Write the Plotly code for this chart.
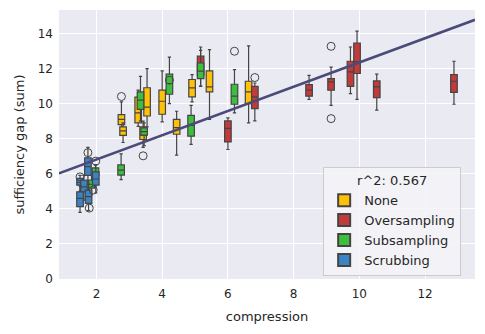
import plotly.graph_objects as go

# ---- data ----
methods = ["None", "Oversampling", "Subsampling", "Scrubbing"]
colors = {"None": "#FFC107", "Oversampling": "#C23B3B", "Subsampling": "#3CBF3C", "Scrubbing": "#3A84C6"}

none_x      = [2.76, 2.81, 3.27, 3.54, 3.42, 4.00, 4.44, 4.91, 5.44, 6.63]
none_lf     = [8.60, 7.78, 8.70, 8.67, 7.50, 8.95, 7.06, 10.09, 9.10, 8.90]
none_q1     = [8.80, 8.19, 8.90, 9.29, 7.95, 9.39, 8.25, 10.38, 10.66, 10.00]
none_med    = [9.10, 8.44, 9.47, 9.80, 8.20, 10.13, 8.63, 10.89, 10.95, 10.66]
none_q3     = [9.37, 8.67, 10.37, 10.90, 8.67, 10.76, 9.10, 11.37, 11.86, 11.27]
none_uf     = [10.09, 8.90, 10.76, 11.99, 9.00, 11.86, 9.56, 11.65, 13.07, 13.28]
none_out_x  = [2.76, 3.42]
none_out_y  = [10.40, 7.02]

over_x      = [5.17, 6.00, 6.82, 8.47, 9.14, 9.73, 9.93, 10.53, 12.88]
over_lf     = [10.98, 7.38, 9.01, 10.24, 9.90, 10.57, 10.24, 9.62, 9.96]
over_q1     = [11.60, 7.81, 9.71, 10.42, 10.76, 10.98, 11.71, 10.34, 10.63]
over_med    = [12.10, 8.58, 10.38, 10.76, 11.23, 11.80, 12.37, 10.95, 11.27]
over_q3     = [12.70, 9.01, 10.98, 11.08, 11.42, 12.41, 13.45, 11.29, 11.65]
over_uf     = [13.22, 9.18, 11.17, 11.61, 12.08, 13.22, 14.13, 11.67, 12.41]
over_out_x  = [6.82, 9.14, 9.14]
over_out_y  = [11.48, 13.26, 9.14]

sub_x       = [2.75, 3.34, 3.45, 4.22, 4.88, 5.17, 6.20, 1.97, 1.85]
sub_lf      = [5.66, 9.00, 7.60, 10.00, 7.67, 11.00, 9.47, 5.30, 4.80]
sub_q1      = [5.92, 9.67, 8.20, 10.53, 8.14, 11.42, 9.96, 5.90, 5.18]
sub_med     = [6.20, 10.19, 8.40, 11.14, 8.76, 11.85, 10.42, 6.00, 5.40]
sub_q3      = [6.50, 10.66, 8.61, 11.67, 9.33, 12.31, 11.10, 6.33, 5.63]
sub_uf      = [7.13, 11.55, 8.90, 12.65, 9.90, 13.03, 11.93, 6.50, 5.90]
sub_out_x   = [4.22, 6.20]
sub_out_y   = [11.33, 12.98]

scr_x       = [1.74, 1.98, 1.50, 1.62, 1.50, 1.76]
scr_lf      = [5.50, 4.90, 5.00, 4.50, 3.80, 3.90]
scr_q1      = [5.90, 5.35, 5.35, 4.97, 4.12, 4.31]
scr_med     = [6.40, 5.70, 5.50, 5.25, 4.60, 4.70]
scr_q3      = [6.90, 6.10, 5.73, 5.63, 4.97, 5.07]
scr_uf      = [7.50, 6.50, 5.90, 5.90, 5.30, 5.40]
scr_out_x   = [1.74, 1.98, 1.50, 1.90, 1.78]
scr_out_y   = [7.20, 6.72, 5.82, 5.07, 4.04]

reg_slope = 0.691
reg_intercept = 5.43
r2_label = "r^2: 0.567"

x_range = [0.86, 13.52]
y_range = [0, 15.33]
x_ticks = [2, 4, 6, 8, 10, 12]
y_ticks = [0, 2, 4, 6, 8, 10, 12, 14]

groups = {
    "None": (none_x, none_lf, none_q1, none_med, none_q3, none_uf, none_out_x, none_out_y),
    "Oversampling": (over_x, over_lf, over_q1, over_med, over_q3, over_uf, over_out_x, over_out_y),
    "Subsampling": (sub_x, sub_lf, sub_q1, sub_med, sub_q3, sub_uf, sub_out_x, sub_out_y),
    "Scrubbing": (scr_x, scr_lf, scr_q1, scr_med, scr_q3, scr_uf, scr_out_x, scr_out_y),
}

fig = go.Figure()
edge = "#444444"

for m in methods:
    xs, lf, q1, med, q3, uf, ox, oy = groups[m]
    fig.add_trace(go.Box(
        name=m, x=xs, lowerfence=lf, q1=q1, median=med, q3=q3, upperfence=uf,
        width=0.2, whiskerwidth=0.5, fillcolor=colors[m],
        line=dict(color=edge, width=1.2), boxpoints=False,
        legendgroup=m, showlegend=True, hoverinfo="skip",
    ))
    fig.add_trace(go.Scatter(
        x=ox, y=oy, mode="markers", legendgroup=m, showlegend=False,
        marker=dict(symbol="circle-open", size=8, color=edge, line=dict(width=1)),
        hoverinfo="skip",
    ))

# regression line across the visible x-range
fig.add_trace(go.Scatter(
    x=x_range, y=[reg_slope * v + reg_intercept for v in x_range],
    mode="lines", line=dict(color="#4B4B7A", width=2.6), showlegend=False, hoverinfo="skip",
))

# the page puts the figure 8px in from the top-left corner
fig.update_layout(
    width=477, height=326,
    margin=dict(l=51, r=10, t=2, b=55, autoexpand=False),
    paper_bgcolor="white", plot_bgcolor="#EAEAF2",
    font=dict(family="DejaVu Sans", size=12, color="#262626"),
    boxmode="overlay",
    legend=dict(
        x=0.635, y=0.415, xanchor="left", yanchor="top",
        bgcolor="rgba(245,245,248,0.85)", bordercolor="#CCCCCC", borderwidth=1,
        title=dict(text=r2_label, side="top center", font=dict(size=13)),
        font=dict(size=13), traceorder="normal", itemsizing="constant",
        tracegroupgap=0,
    ),
    xaxis=dict(
        range=x_range, tickvals=x_ticks, showgrid=True, gridcolor="white", gridwidth=1.2,
        zeroline=False, showline=False, ticks="", tickfont=dict(size=12), automargin=True,
        ticklabelstandoff=6,
        title=dict(text="compression", font=dict(size=13), standoff=11),
    ),
    yaxis=dict(
        range=y_range, tickvals=y_ticks, showgrid=True, gridcolor="white", gridwidth=1.2,
        zeroline=False, showline=False, ticks="", tickfont=dict(size=12), automargin=True,
        ticklabelstandoff=5,
        title=dict(text="sufficiency gap (sum)", font=dict(size=13), standoff=10),
    ),
)

fig.write_html("out.html")
